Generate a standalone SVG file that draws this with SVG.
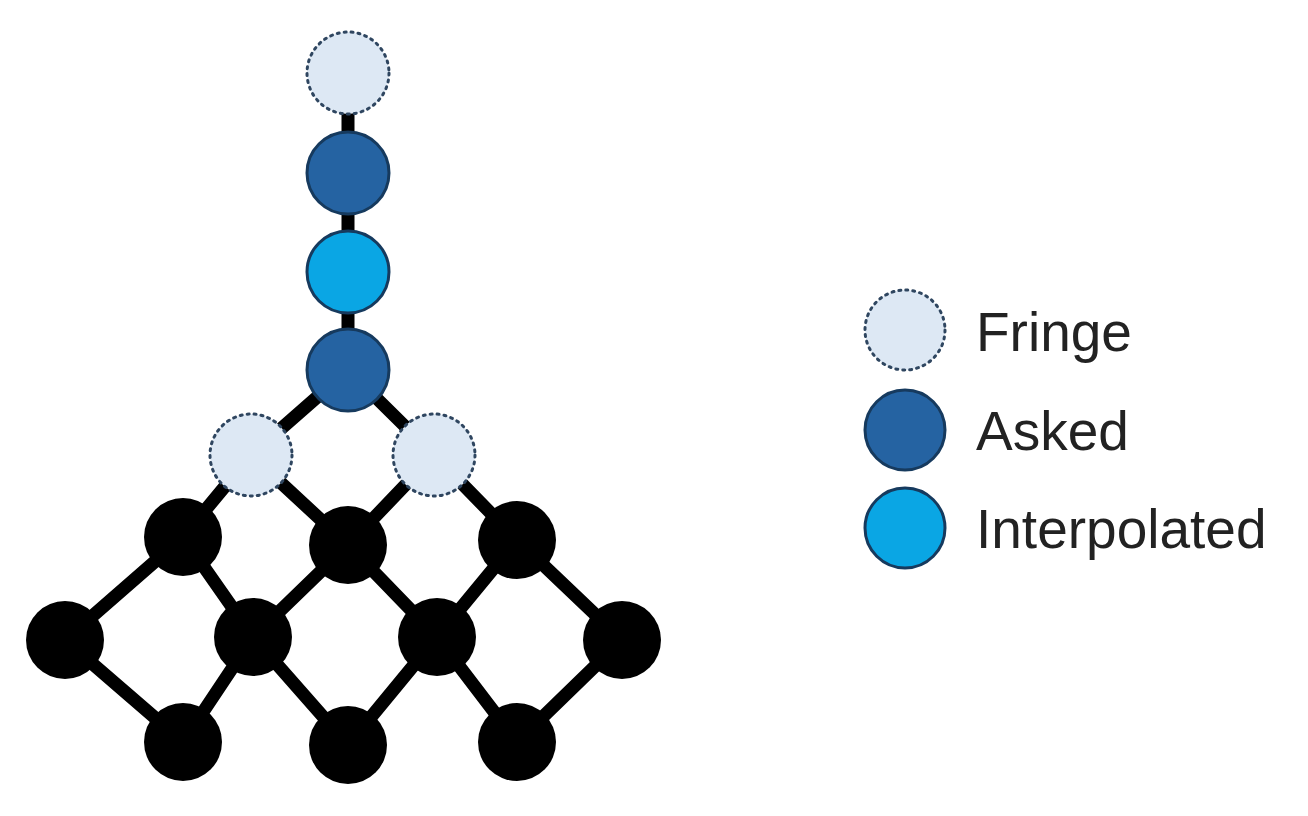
<svg xmlns="http://www.w3.org/2000/svg" width="1308" height="816" viewBox="0 0 1308 816">
<style>
.e{stroke:#000;stroke-width:13;fill:none}
.fr{fill:#dde8f4;stroke:#2f4660;stroke-width:3;stroke-dasharray:2 5;stroke-linecap:round}
.as{fill:#2563a2;stroke:#163a5e;stroke-width:3}
.ip{fill:#0aa6e4;stroke:#163a5e;stroke-width:3}
.bk{fill:#000}
text{font-family:"Liberation Sans",Arial,sans-serif;font-size:55px;fill:#222}
</style>
<rect width="1308" height="816" fill="#fff"/>
<g id="connectors">
<path class="e" d="M348,73V370M348,370L251,455M348,370L434,455M251,455L183,537M251,455L348,545M434,455L348,545M434,455L517,540M183,537L65,640M183,537L253,637M348,545L253,637M348,545L437,637M517,540L437,637M517,540L622,640M65,640L183,742M253,637L183,742M253,637L348,745M437,637L348,745M437,637L517,742M622,640L517,742"/>
</g>
<g id="n1"><circle class="fr" cx="348" cy="73" r="41"/></g>
<g id="n2"><circle class="as" cx="348" cy="173" r="41"/></g>
<g id="n3"><circle class="ip" cx="348" cy="272" r="41"/></g>
<g id="n4"><circle class="as" cx="348" cy="370" r="41"/></g>
<g id="n5"><circle class="fr" cx="251" cy="455" r="41"/></g>
<g id="n6"><circle class="fr" cx="434" cy="455" r="41"/></g>
<g id="n7"><circle class="bk" cx="183" cy="537" r="39"/></g>
<g id="n8"><circle class="bk" cx="348" cy="545" r="39"/></g>
<g id="n9"><circle class="bk" cx="517" cy="540" r="39"/></g>
<g id="n10"><circle class="bk" cx="65" cy="640" r="39"/></g>
<g id="n11"><circle class="bk" cx="253" cy="637" r="39"/></g>
<g id="n12"><circle class="bk" cx="437" cy="637" r="39"/></g>
<g id="n13"><circle class="bk" cx="622" cy="640" r="39"/></g>
<g id="n14"><circle class="bk" cx="183" cy="742" r="39"/></g>
<g id="n15"><circle class="bk" cx="348" cy="745" r="39"/></g>
<g id="n16"><circle class="bk" cx="517" cy="742" r="39"/></g>
<g id="legend">
<circle class="fr" cx="905" cy="330" r="40"/>
<circle class="as" cx="905" cy="430" r="40"/>
<circle class="ip" cx="905" cy="528" r="40"/>
<text x="976" y="351">Fringe</text>
<text x="976" y="450">Asked</text>
<text x="976" y="548">Interpolated</text>
</g>
</svg>
